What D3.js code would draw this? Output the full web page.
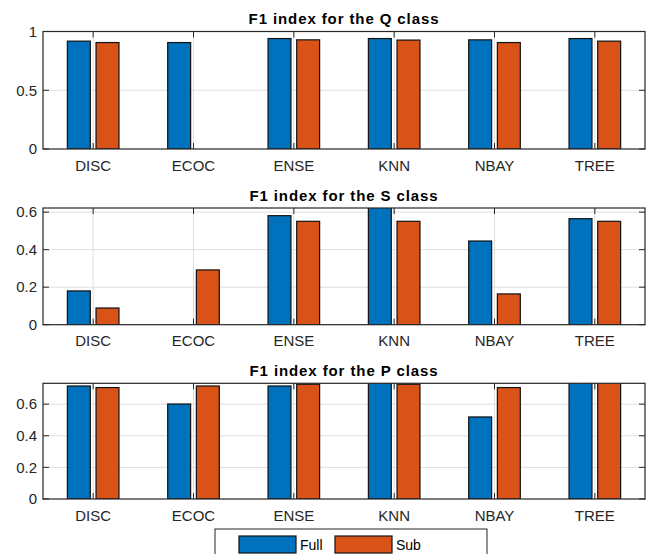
<!DOCTYPE html>
<html>
<head>
<meta charset="utf-8">
<script src="https://cdn.jsdelivr.net/npm/d3@7"></script>
<style>
  body { margin: 0; background: #fff; }
  svg { display: block; font-family: "Liberation Sans", Arial, sans-serif; }
</style>
</head>
<body>
<div id="chart"></div>
<script>
// categories (classifiers)
const categories = ["DISC", "ECOC", "ENSE", "KNN", "NBAY", "TREE"];
const seriesNames = ["Full", "Sub"];

// F1 values
const fullQ = [0.918, 0.906, 0.940, 0.940, 0.929, 0.940];
const subQ  = [0.906, 0,     0.929, 0.927, 0.906, 0.918];
const fullS = [0.180, 0,     0.581, 0.660, 0.446, 0.565];
const subS  = [0.089, 0.292, 0.551, 0.551, 0.164, 0.551];
const fullP = [0.715, 0.601, 0.715, 0.760, 0.519, 0.740];
const subP  = [0.705, 0.715, 0.726, 0.726, 0.705, 0.740];

// y ticks per panel
const ticksQ = [0, 0.5, 1];
const ticksS = [0, 0.2, 0.4, 0.6];
const ticksP = [0, 0.2, 0.4, 0.6];
const tickLabelsQ = ["0", "0.5", "1"];
const tickLabelsS = ["0", "0.2", "0.4", "0.6"];
const tickLabelsP = ["0", "0.2", "0.4", "0.6"];

const titles = ["F1 index for the Q class", "F1 index for the S class", "F1 index for the P class"];

const colors = ["#0072BD", "#D95319"];
const width = 648, height = 554;
const left = 43, right = 645;

const panels = [
  {title: titles[0], full: fullQ, sub: subQ, ticks: ticksQ, labels: tickLabelsQ, ymax: 1,     top: 31.5, bottom: 149},
  {title: titles[1], full: fullS, sub: subS, ticks: ticksS, labels: tickLabelsS, ymax: 0.622, top: 208,  bottom: 324.7},
  {title: titles[2], full: fullP, sub: subP, ticks: ticksP, labels: tickLabelsP, ymax: 0.732, top: 383.3, bottom: 499}
];

const svg = d3.select("#chart").append("svg")
  .attr("width", width)
  .attr("height", height);

// group positions like matlab's grouped bar
const groupW = 2 / 3.5;
const barW = groupW / 2 * 0.8;
const offsets = [-groupW / 4, groupW / 4];

const x = d3.scaleLinear().domain([0.5, categories.length + 0.5]).range([left, right]);
const tickLen = 6;

panels.forEach((p, pi) => {
  const y = d3.scaleLinear().domain([0, p.ymax]).range([p.bottom, p.top]);
  const g = svg.append("g");

  // clip for bars that go above the axis
  svg.append("clipPath").attr("id", "clip" + pi)
    .append("rect")
    .attr("x", left).attr("y", p.top)
    .attr("width", right - left).attr("height", p.bottom - p.top);

  // grid
  g.selectAll(".vgrid").data(categories).enter().append("line")
    .attr("x1", (d, i) => x(i + 1)).attr("x2", (d, i) => x(i + 1))
    .attr("y1", p.top).attr("y2", p.bottom)
    .attr("stroke", "#dedede").attr("stroke-width", 1);
  g.selectAll(".hgrid").data(p.ticks.filter(t => t > 0)).enter().append("line")
    .attr("x1", left).attr("x2", right)
    .attr("y1", d => y(d)).attr("y2", d => y(d))
    .attr("stroke", "#dedede").attr("stroke-width", 1);

  // bars (zero values are not drawn, keep the category index)
  const bars = g.append("g").attr("clip-path", `url(#clip${pi})`);
  [p.full, p.sub].forEach((vals, si) => {
    const rows = vals.map((v, i) => ({v: v, i: i})).filter(d => d.v > 0);
    bars.selectAll(".s" + si).data(rows).enter().append("rect")
      .attr("x", d => x(d.i + 1 + offsets[si] - barW / 2))
      .attr("width", x(barW) - x(0))
      .attr("y", d => y(d.v))
      .attr("height", d => y(0) - y(d.v))
      .attr("fill", colors[si])
      .attr("stroke", "#111")
      .attr("stroke-width", 1.2);
  });

  // axes box
  g.append("rect")
    .attr("x", left).attr("y", p.top)
    .attr("width", right - left).attr("height", p.bottom - p.top)
    .attr("fill", "none").attr("stroke", "#262626").attr("stroke-width", 1.2);

  // inward tick marks, all four sides
  categories.forEach((c, i) => {
    g.append("line").attr("x1", x(i + 1)).attr("x2", x(i + 1))
      .attr("y1", p.bottom).attr("y2", p.bottom - tickLen).attr("stroke", "#262626");
    g.append("line").attr("x1", x(i + 1)).attr("x2", x(i + 1))
      .attr("y1", p.top).attr("y2", p.top + tickLen).attr("stroke", "#262626");
  });
  p.ticks.forEach(t => {
    g.append("line").attr("x1", left).attr("x2", left + tickLen)
      .attr("y1", y(t)).attr("y2", y(t)).attr("stroke", "#262626");
    g.append("line").attr("x1", right).attr("x2", right - tickLen)
      .attr("y1", y(t)).attr("y2", y(t)).attr("stroke", "#262626");
  });

  // tick labels
  g.selectAll(".xl").data(categories).enter().append("text")
    .attr("x", (d, i) => x(i + 1))
    .attr("y", p.bottom + 21.5)
    .attr("text-anchor", "middle")
    .attr("font-size", 15)
    .attr("fill", "#262626")
    .text(d => d);
  g.selectAll(".yl").data(p.ticks).enter().append("text")
    .attr("x", 37)
    .attr("y", d => y(d))
    .attr("dy", "0.35em")
    .attr("text-anchor", "end")
    .attr("font-size", 15)
    .attr("fill", "#262626")
    .text((d, i) => p.labels[i]);

  // title
  g.append("text")
    .attr("x", (left + right) / 2)
    .attr("y", p.top - 7.5)
    .attr("text-anchor", "middle")
    .attr("font-size", 15)
    .attr("font-weight", "bold")
    .attr("letter-spacing", 0.9)
    .attr("fill", "#000")
    .text(p.title);
});

// legend (cut off at the bottom edge like the picture)
const lg = svg.append("g");
lg.append("rect")
  .attr("x", 215).attr("y", 529)
  .attr("width", 272).attr("height", 40)
  .attr("fill", "#fff").attr("stroke", "#262626").attr("stroke-width", 1);
const legendX = [239, 335];
seriesNames.forEach((s, i) => {
  lg.append("rect")
    .attr("x", legendX[i]).attr("y", 536)
    .attr("width", 57).attr("height", 17)
    .attr("fill", colors[i]).attr("stroke", "#111").attr("stroke-width", 1.2);
  lg.append("text")
    .attr("x", legendX[i] + 61).attr("y", 550)
    .attr("font-size", 14)
    .attr("fill", "#000")
    .text(s);
});
</script>
</body>
</html>
